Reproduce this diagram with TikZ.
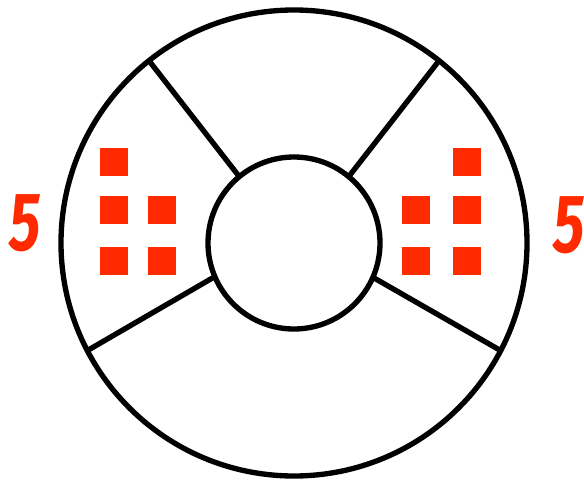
\documentclass[tikz,border=0pt]{standalone}
\usepackage{fontspec}
\usetikzlibrary{calc}
\newfontfamily\fivefont{Fira Sans}
\definecolor{sqred}{HTML}{FF2A00}
\begin{document}
\begin{tikzpicture}[x=0.75pt,y=-0.75pt,
  ring/.style={line width=4pt, draw=black},
  spoke/.style={line width=4pt, draw=black, line cap=butt},
  sq/.style={fill=sqred, draw=none, minimum size=21pt, inner sep=0pt, outer sep=0pt},
  digit/.style={text=sqred, font=\fivefont\bfseries\itshape\fontsize{62}{62}\selectfont, inner sep=0pt, xscale=0.72}]
\useasboundingbox (0,0) rectangle (584,481);
\coordinate (c) at (294,243);
\draw[ring] (c) circle[radius=233*0.75pt];
\draw[ring] (c) circle[radius=86*0.75pt];
% spokes
\coordinate (o1) at ($(c)+(128.5:233*0.75pt)$);
\coordinate (i1) at ($(c)+(129.5:86*0.75pt)$);
\coordinate (o2) at ($(c)+(51.5:233*0.75pt)$);
\coordinate (i2) at ($(c)+(50.5:86*0.75pt)$);
\coordinate (o3) at ($(c)+(207.5:233*0.75pt)$);
\coordinate (i3) at ($(c)+(203:86*0.75pt)$);
\coordinate (o4) at ($(c)+(-27.5:233*0.75pt)$);
\coordinate (i4) at ($(c)+(-23.5:86*0.75pt)$);
\draw[spoke] (o1) -- (i1);
\draw[spoke] (o2) -- (i2);
\draw[spoke] (o3) -- (i3);
\draw[spoke] (o4) -- (i4);
% left squares
\node[sq] (l1) at (114,162) {};
\node[sq] (l2) at (114,210) {};
\node[sq] (l3) at (162,210) {};
\node[sq] (l4) at (114,261) {};
\node[sq] (l5) at (162,261) {};
% right squares
\node[sq] (r1) at (467,162) {};
\node[sq] (r2) at (416,210) {};
\node[sq] (r3) at (467,210) {};
\node[sq] (r4) at (416,261) {};
\node[sq] (r5) at (467,261) {};
% digits
\node[digit] (dl) at (25,223) {5};
\node[digit] (dr) at (569,225) {5};
\end{tikzpicture}
\end{document}
